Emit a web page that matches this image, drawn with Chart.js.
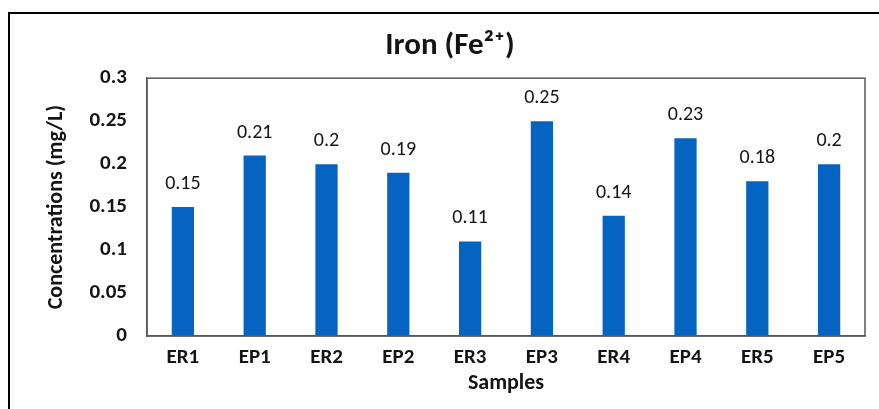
<!DOCTYPE html>
<html>
<head>
<meta charset="utf-8">
<script src="https://cdn.jsdelivr.net/npm/chart.js@4/dist/chart.umd.min.js"></script>
<style>
  html, body { margin: 0; padding: 0; background: #fff; }
  canvas { display: block; }
</style>
</head>
<body>
<canvas id="ironChart" width="879" height="409"></canvas>
<script>
// chart data
const samples = ['ER1', 'EP1', 'ER2', 'EP2', 'ER3', 'EP3', 'ER4', 'EP4', 'ER5', 'EP5'];
const ironValues = [0.15, 0.21, 0.2, 0.19, 0.11, 0.25, 0.14, 0.23, 0.18, 0.2];
const valueLabels = ['0.15', '0.21', '0.2', '0.19', '0.11', '0.25', '0.14', '0.23', '0.18', '0.2'];
const yTickLabels = ['0', '0.05', '0.1', '0.15', '0.2', '0.25', '0.3'];

const fontFamily = "Carlito, Lato, 'DejaVu Sans', sans-serif";
const textColor = '#141414';

// outer frame + box round the plot area
const framePlugin = {
  id: 'frame',
  beforeDraw(chart) {
    const ctx = chart.ctx;
    ctx.save();
    ctx.fillStyle = '#fff';
    ctx.fillRect(0, 0, chart.width, chart.height);
    ctx.strokeStyle = '#000';
    ctx.lineWidth = 2;
    ctx.strokeRect(9, 13, chart.width + 20, chart.height + 20);
    ctx.restore();
  },
  afterDatasetsDraw(chart) {
    const a = chart.chartArea;
    const ctx = chart.ctx;
    ctx.save();
    ctx.strokeStyle = '#595959';
    ctx.lineWidth = 1.5;
    ctx.strokeRect(a.left, a.top, a.right - a.left, a.bottom - a.top);
    ctx.restore();
  }
};

// value labels above each bar
const valueLabelPlugin = {
  id: 'valueLabels',
  afterDatasetsDraw(chart) {
    const ctx = chart.ctx;
    const meta = chart.getDatasetMeta(0);
    ctx.save();
    ctx.font = '20px ' + fontFamily;
    ctx.fillStyle = textColor;
    ctx.textAlign = 'center';
    ctx.textBaseline = 'middle';
    meta.data.forEach((bar, i) => {
      ctx.fillText(valueLabels[i], bar.x, bar.y - 23);
    });
    ctx.restore();
  }
};

const ctx = document.getElementById('ironChart').getContext('2d');
const ironChart = new Chart(ctx, {
  type: 'bar',
  data: {
    labels: samples,
    datasets: [{
      label: 'Iron',
      data: ironValues,
      backgroundColor: '#0563c1',
      borderWidth: 0,
      categoryPercentage: 0.31,
      barPercentage: 1
    }]
  },
  options: {
    responsive: false,
    animation: false,
    layout: { padding: { left: 35, right: 14, top: 0, bottom: 0 } },
    plugins: {
      legend: { display: false },
      tooltip: { enabled: false },
      title: {
        display: true,
        text: 'Iron (Fe²⁺)',
        color: textColor,
        font: { family: fontFamily, size: 31, weight: 'bold' },
        padding: { top: 28, bottom: 13 }
      }
    },
    scales: {
      x: {
        grid: { display: false, drawTicks: false },
        border: { display: true, color: '#595959', width: 1.5 },
        ticks: {
          color: textColor,
          padding: 9,
          font: { family: fontFamily, size: 21, weight: 'bold' }
        },
        title: {
          display: true,
          text: 'Samples',
          color: textColor,
          font: { family: fontFamily, size: 22, weight: 'bold' },
          padding: { top: 0, bottom: 12 }
        },
        afterFit(scale) { scale.height = 73; }
      },
      y: {
        min: 0,
        max: 0.3,
        grid: { display: false, drawTicks: false },
        border: { display: true, color: '#595959', width: 1.5 },
        ticks: {
          stepSize: 0.05,
          color: textColor,
          padding: 20,
          font: { family: fontFamily, size: 21, weight: 'bold' },
          callback: (v, i) => yTickLabels[i]
        },
        title: {
          display: true,
          text: 'Concentrations (mg/L)',
          color: textColor,
          font: { family: fontFamily, size: 22, weight: 'bold' },
          padding: { top: 8, bottom: 0 }
        },
        afterFit(scale) { scale.width = 112; }
      }
    }
  },
  plugins: [framePlugin, valueLabelPlugin]
});
</script>
</body>
</html>
